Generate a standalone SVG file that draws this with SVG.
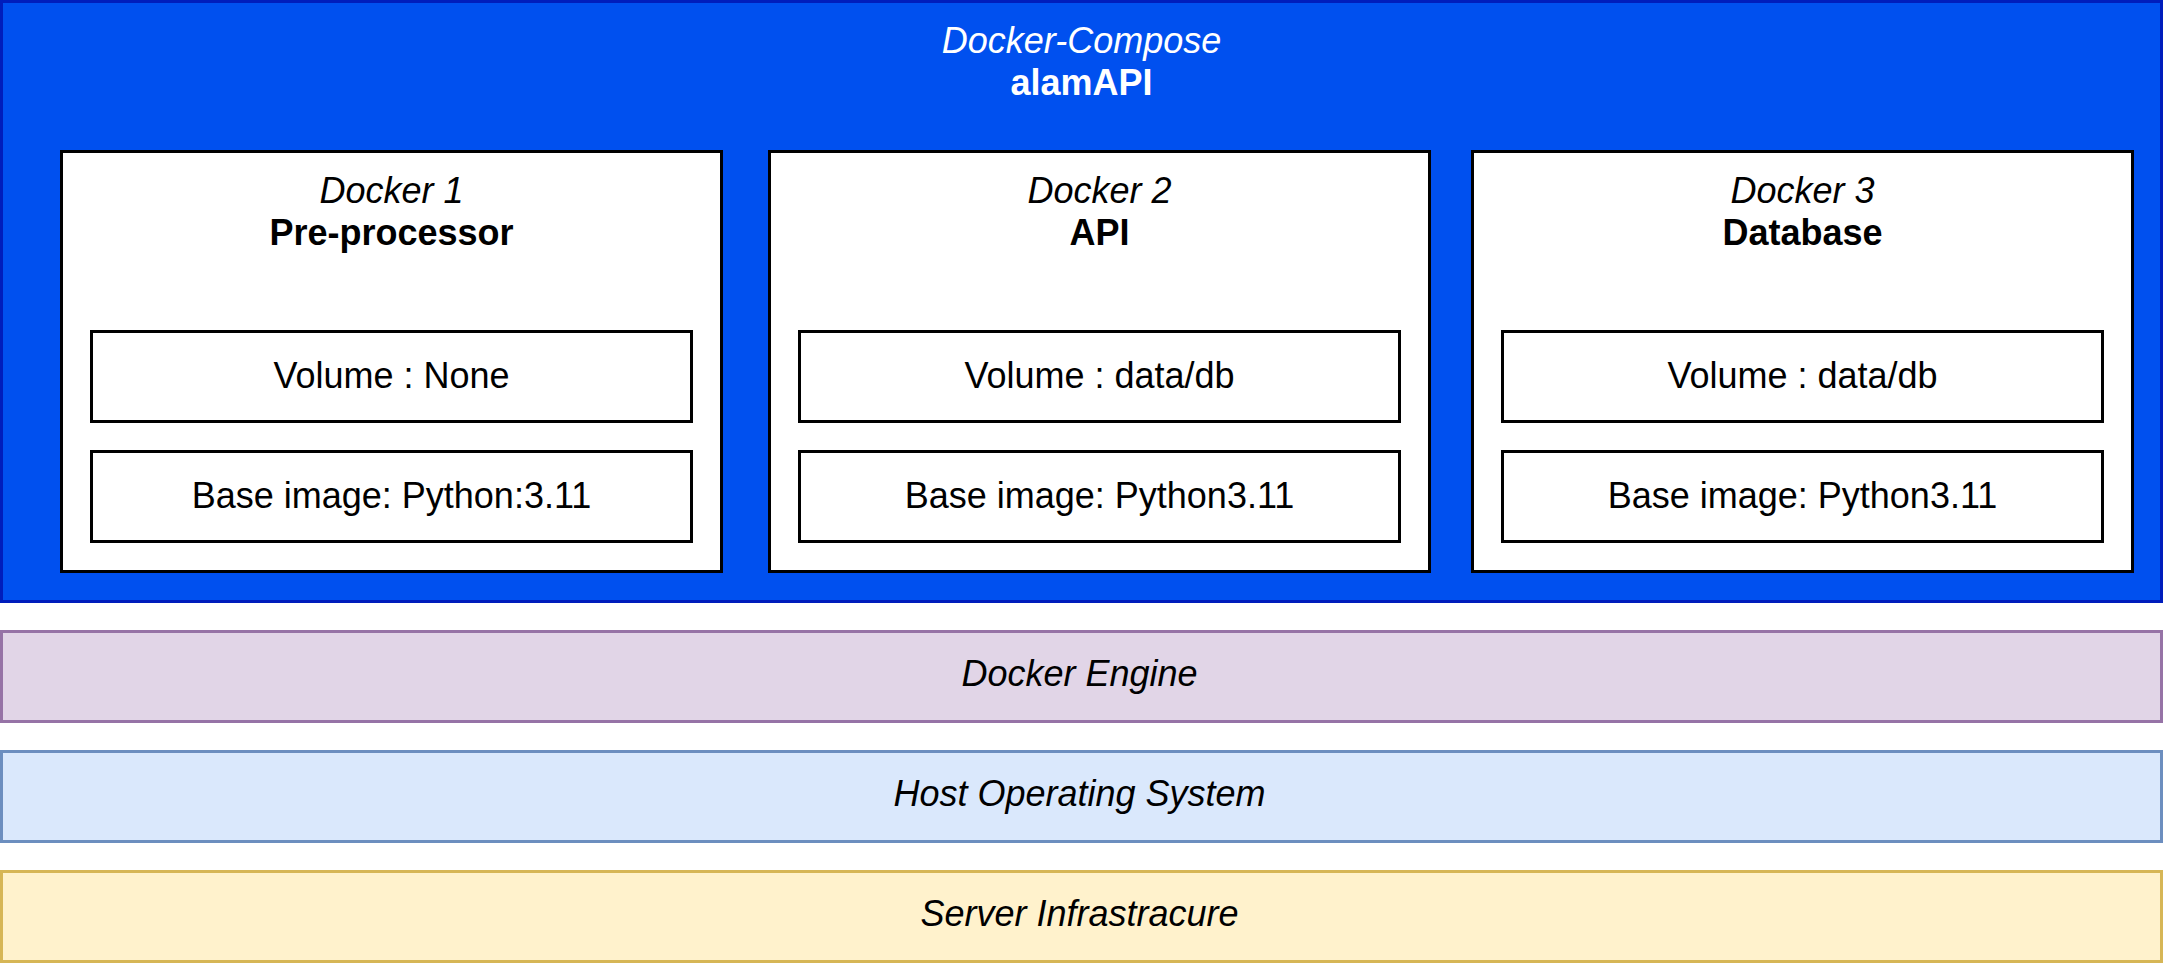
<svg xmlns="http://www.w3.org/2000/svg" width="2163" height="963" viewBox="0 0 2163 963">
<style>
text{font-family:"Liberation Sans",Arial,sans-serif;font-size:36px;text-anchor:middle}
.it{font-style:italic}
.b{font-weight:bold}
.w{fill:#ffffff}
.k{fill:#000000}
.box{fill:#ffffff;stroke:#000000;stroke-width:3}
</style>
<rect width="2163" height="963" fill="#ffffff"/>
<g id="compose">
<rect x="1.5" y="1.5" width="2160" height="600" fill="#0050ef" stroke="#001dbc" stroke-width="3"/>
<text x="1081.5" y="53" class="it w">Docker-Compose</text>
<text x="1081.5" y="95" class="b w">alamAPI</text>
</g>
<g id="docker1">
<rect x="61.5" y="151.5" width="660" height="420" class="box"/>
<text x="391.5" y="203" class="it k">Docker 1</text>
<text x="391.5" y="245" class="b k">Pre-processor</text>
</g>
<g id="docker1-volume">
<rect x="91.5" y="331.5" width="600" height="90" class="box"/>
<text x="391.5" y="388" class="k">Volume : None</text>
</g>
<g id="docker1-image">
<rect x="91.5" y="451.5" width="600" height="90" class="box"/>
<text x="391.5" y="508" class="k">Base image: Python:3.11</text>
</g>
<g id="docker2">
<rect x="769.5" y="151.5" width="660" height="420" class="box"/>
<text x="1099.5" y="203" class="it k">Docker 2</text>
<text x="1099.5" y="245" class="b k">API</text>
</g>
<g id="docker2-volume">
<rect x="799.5" y="331.5" width="600" height="90" class="box"/>
<text x="1099.5" y="388" class="k">Volume : data/db</text>
</g>
<g id="docker2-image">
<rect x="799.5" y="451.5" width="600" height="90" class="box"/>
<text x="1099.5" y="508" class="k">Base image: Python3.11</text>
</g>
<g id="docker3">
<rect x="1472.5" y="151.5" width="660" height="420" class="box"/>
<text x="1802.5" y="203" class="it k">Docker 3</text>
<text x="1802.5" y="245" class="b k">Database</text>
</g>
<g id="docker3-volume">
<rect x="1502.5" y="331.5" width="600" height="90" class="box"/>
<text x="1802.5" y="388" class="k">Volume : data/db</text>
</g>
<g id="docker3-image">
<rect x="1502.5" y="451.5" width="600" height="90" class="box"/>
<text x="1802.5" y="508" class="k">Base image: Python3.11</text>
</g>
<g id="engine">
<rect x="1.5" y="631.5" width="2160" height="90" fill="#e1d5e7" stroke="#9673a6" stroke-width="3"/>
<text x="1079.5" y="686" class="it k">Docker Engine</text>
</g>
<g id="host-os">
<rect x="1.5" y="751.5" width="2160" height="90" fill="#dae8fc" stroke="#6c8ebf" stroke-width="3"/>
<text x="1079.5" y="806" class="it k">Host Operating System</text>
</g>
<g id="infrastructure">
<rect x="1.5" y="871.5" width="2160" height="90" fill="#fff2cc" stroke="#d6b656" stroke-width="3"/>
<text x="1079.5" y="926" class="it k">Server Infrastracure</text>
</g>
<g id="connectors"></g>
</svg>
